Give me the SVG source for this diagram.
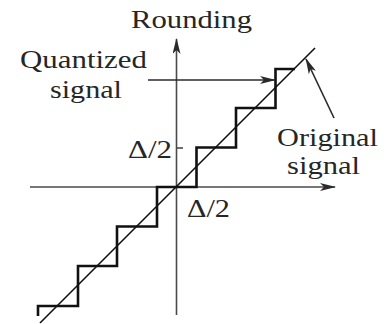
<svg xmlns="http://www.w3.org/2000/svg" width="385" height="324" viewBox="0 0 385 324">
<style>
.t{font-family:"Liberation Serif","Times New Roman",serif;font-size:26px;fill:#262626}
.ax{stroke:#4a4a4a;stroke-width:1.6;fill:none}
.ar{stroke:#2a2a2a;stroke-width:1.6;fill:none}
</style>
<defs>
<marker id="ah" viewBox="0 0 16 8" refX="15" refY="4" markerWidth="16" markerHeight="8" markerUnits="userSpaceOnUse" orient="auto">
<path d="M0,0 L16,4 L0,8 L4,4 Z" fill="#2a2a2a"/>
</marker>
</defs>
<rect width="385" height="324" fill="#fff"/>
<g id="axes">
<line id="y-axis" class="ax" x1="176.5" y1="315" x2="176.5" y2="39" marker-end="url(#ah)"/>
<line id="x-axis" class="ax" x1="30" y1="187" x2="335" y2="187" marker-end="url(#ah)"/>
<line id="tick" class="ax" x1="176.5" y1="148" x2="183" y2="148"/>
</g>
<g id="original-signal">
<line x1="40" y1="323" x2="315" y2="48" stroke="#111" stroke-width="1.6"/>
</g>
<g id="quantized-signal">
<path d="M38,316 L38,306 L78,306 L78,266 L117,266 L117,226.5 L157,226.5 L157,187 L196.5,187 L196.5,147.5 L236,147.5 L236,108 L275.5,108 L275.5,69 L295,69" fill="none" stroke="#111" stroke-width="2.6" stroke-linejoin="miter"/>
</g>
<g id="connectors">
<line class="ar" x1="148" y1="80" x2="275" y2="80" marker-end="url(#ah)"/>
<line class="ar" x1="334" y1="118" x2="306" y2="59" marker-end="url(#ah)"/>
</g>
<g id="labels">
<text class="t" x="131" y="28" textLength="121" lengthAdjust="spacingAndGlyphs">Rounding</text>
<text class="t" x="20" y="68" textLength="127" lengthAdjust="spacingAndGlyphs">Quantized</text>
<text class="t" x="50" y="98" textLength="72" lengthAdjust="spacingAndGlyphs">signal</text>
<text class="t" x="277" y="146" textLength="101" lengthAdjust="spacingAndGlyphs">Original</text>
<text class="t" x="287" y="174" textLength="73" lengthAdjust="spacingAndGlyphs">signal</text>
<text class="t" x="128" y="158" textLength="44" lengthAdjust="spacingAndGlyphs">Δ/2</text>
<text class="t" x="187" y="217" textLength="43" lengthAdjust="spacingAndGlyphs">Δ/2</text>
</g>
</svg>
